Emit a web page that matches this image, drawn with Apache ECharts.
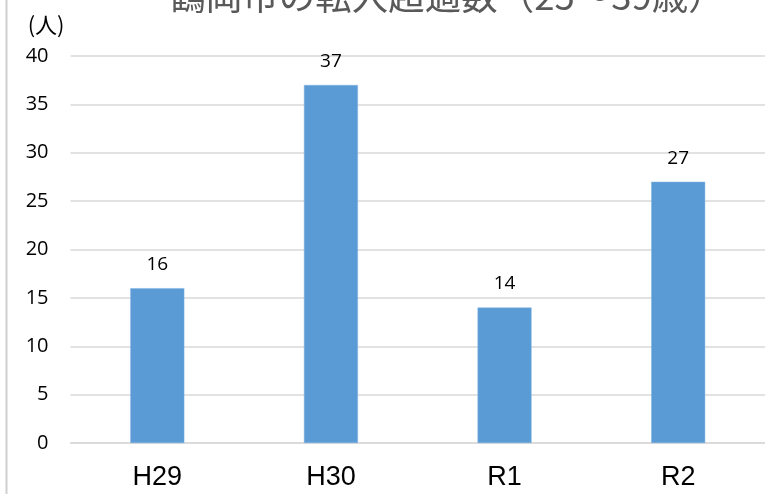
<!DOCTYPE html>
<html><head><meta charset="utf-8">
<script src="https://cdn.jsdelivr.net/npm/echarts@6/dist/echarts.min.js"></script>
<style>html,body{margin:0;padding:0;background:#fff}#c{width:765px;height:494px}</style>
</head><body><div id="c"></div>
<script>
var titleText = '鶴岡市の転入超過数（25～39歳）';
var unitLabel = '(人)';
var categories = ['H29', 'H30', 'R1', 'R2'];
var values = [16, 37, 14, 27];

var chart = echarts.init(document.getElementById('c'), null, {renderer: 'canvas'});
chart.setOption({
  animation: false,
  backgroundColor: '#fff',
  title: {
    text: titleText, left: 442, top: -27, textAlign: 'center',
    textStyle: {fontFamily: 'Noto Sans CJK JP', fontSize: 36.5, fontWeight: 'normal', color: '#595959'}
  },
  graphic: [{
    type: 'line', shape: {x1: 6.5, y1: 0, x2: 6.5, y2: 494},
    style: {stroke: '#d0d0d0', lineWidth: 2}
  }],
  grid: {left: 70.5, right: -5.5, top: 56, bottom: 51, containLabel: false},
  xAxis: {
    type: 'category', data: categories,
    axisLine: {lineStyle: {color: '#d9d9d9', width: 1.5}},
    axisTick: {show: false},
    axisLabel: {margin: 21, fontSize: 27, color: '#000', fontFamily: 'Liberation Sans, sans-serif'}
  },
  yAxis: {
    type: 'value', min: 0, max: 40, interval: 5,
    name: unitLabel, nameLocation: 'end', nameGap: 20,
    nameTextStyle: {fontSize: 22, color: '#000', align: 'right', padding: [0, 6, 0, 0], fontFamily: 'Noto Sans CJK JP'},
    axisLine: {show: false}, axisTick: {show: false},
    axisLabel: {margin: 22, fontSize: 20, color: '#000', fontFamily: 'Open Sans, sans-serif'},
    splitLine: {lineStyle: {color: '#d9d9d9', width: 1.5}}
  },
  series: [{
    type: 'bar', data: values, barWidth: 54,
    itemStyle: {color: '#5B9BD5', borderColor: '#7fb2e0', borderWidth: 0.5},
    label: {show: true, position: 'top', distance: 14, fontSize: 19, color: '#000', fontFamily: 'Open Sans, sans-serif'}
  }]
});
</script></body></html>
